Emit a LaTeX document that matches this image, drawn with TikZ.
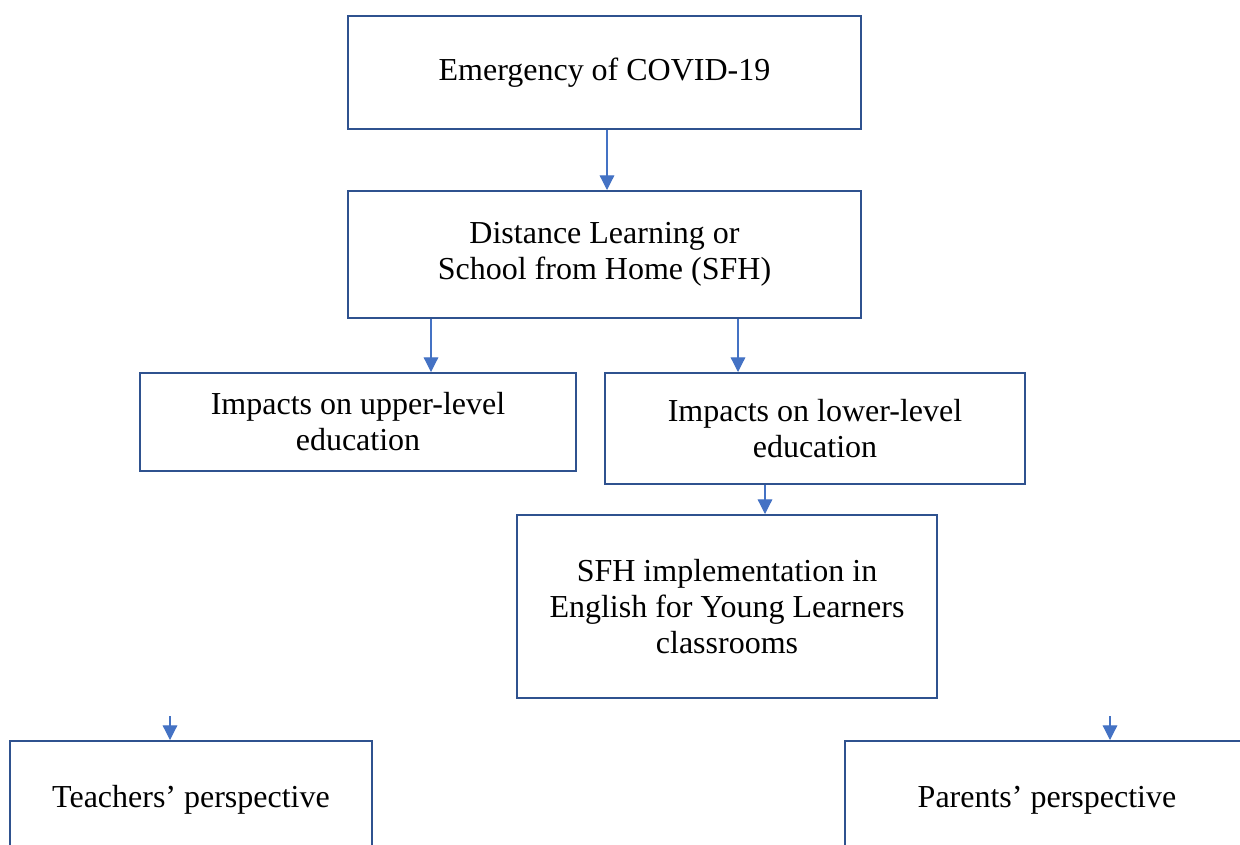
\documentclass[tikz,border=0pt]{standalone}
\usepackage{fontspec}
\setmainfont{Liberation Serif}
\usetikzlibrary{arrows.meta}
\definecolor{boxblue}{HTML}{2F528F}
\definecolor{arrblue}{HTML}{4472C4}

\begin{document}
\begin{tikzpicture}[x=0.75pt, y=-0.75pt,
    box/.style={draw=boxblue, line width=1.5pt, inner sep=0pt, align=center,
      font=\fontsize{24}{27}\selectfont},
    arr/.style={-{Triangle[length=11pt,width=11pt]}, arrblue, line width=0.9pt}
  ]
  \useasboundingbox (0,0) rectangle (1240,844);
  \clip (0,0) rectangle (1240,844);

  % boxes
  \node[box, minimum width=384.75pt, minimum height=84.75pt] (emerg) at (604.5,72.5)
    {Emergency of COVID-19};
  \node[box, minimum width=384.75pt, minimum height=95.25pt] (dist) at (604.5,254.5)
    {Distance Learning or\\School from Home (SFH)};
  \node[box, minimum width=327pt, minimum height=73.5pt] (upper) at (358,422)
    {Impacts on upper-level\\education};
  \node[box, minimum width=315pt, minimum height=83.25pt] (lower) at (815,428.5)
    {Impacts on lower-level\\education};
  \node[box, minimum width=315pt, minimum height=137.25pt] (sfh) at (727,606.5)
    {SFH implementation in\\English for Young Learners\\classrooms};
  \node[box, minimum width=271.5pt, minimum height=88.5pt] (teach) at (191,800)
    {Teachers’ perspective};
  \node[box, minimum width=303pt, minimum height=88.5pt] (parent) at (1047,800)
    {Parents’ perspective};

  % arrows
  \draw[arr] (emerg.south -| 607,0) -- (dist.north -| 607,0);
  \draw[arr] (dist.south -| 431,0) -- (upper.north -| 431,0);
  \draw[arr] (dist.south -| 738,0) -- (lower.north -| 738,0);
  \draw[arr] (lower.south -| 765,0) -- (sfh.north -| 765,0);

  \coordinate (tstart) at (170,716);
  \coordinate (pstart) at (1110,716);
  \draw[arr] (tstart) -- (teach.north -| tstart);
  \draw[arr] (pstart) -- (parent.north -| pstart);
\end{tikzpicture}
\end{document}
